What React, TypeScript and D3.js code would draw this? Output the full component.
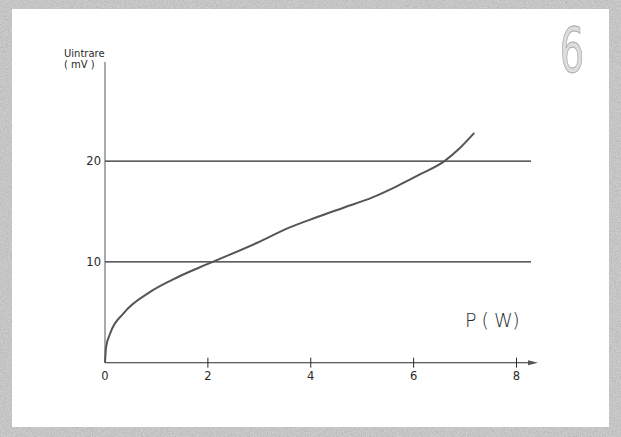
import React from "react";
import * as d3 from "d3";

const xTicks = [0, 2, 4, 6, 8];
const yTicks = [10, 20];
const curveP = [0, 0.02, 0.1, 0.36, 0.87, 1.42, 2.0, 2.96, 3.58, 4.1, 4.65, 5.2, 5.67, 6.13, 6.6, 6.9, 7.18];
const curveU = [0, 1.5, 2.9, 4.9, 7.0, 8.5, 9.8, 11.9, 13.4, 14.4, 15.4, 16.4, 17.5, 18.7, 20, 21.3, 22.8];

const W = 621;
const H = 437;

export default function App() {
  const x = d3.scaleLinear().domain([0, 8]).range([105, 516.5]);
  const y = d3.scaleLinear().domain([0, 10]).range([362.7, 261.9]);
  const pts: [number, number][] = curveP.map((p, i) => [x(p), y(curveU[i])]);
  const line = d3.line().curve(d3.curveMonotoneX);
  const font = "'DejaVu Sans', Verdana, sans-serif";
  const ink = "#2a2a2a";
  return (
    <svg width={W} height={H} style={{ position: "absolute", left: 0, top: 0 }}>
      <defs>
        <filter id="noise" x="0" y="0" width="100%" height="100%">
          <feTurbulence type="fractalNoise" baseFrequency="1.2" numOctaves="1" seed="3" />
          <feColorMatrix type="matrix" values="0 0 0 0 0.45  0 0 0 0 0.45  0 0 0 0 0.45  0 0 0 1.6 -0.3" />
        </filter>
      </defs>
      <rect x={0} y={0} width={W} height={H} fill="#d4d4d4" />
      <rect x={0} y={0} width={W} height={H} filter="url(#noise)" opacity={0.9} />
      <rect x={12} y={9} width={597} height={418} fill="#ffffff" />
      {/* big 6 */}
      <text x={0} y={0} transform="translate(572,72) scale(0.62,1)" fontFamily={font} fontSize={62} textAnchor="middle" fill="#dcdcdc" stroke="#a8a8a8" strokeWidth={1}>6</text>
      {/* gridlines */}
      {yTicks.map((t) => (
        <g key={t}>
          <line x1={105} x2={531} y1={y(t)} y2={y(t)} stroke={ink} strokeWidth={1.1} />
          <text x={101} y={y(t) + 4} fontFamily={font} fontSize={11.5} textAnchor="end" fill={ink}>{t}</text>
        </g>
      ))}
      {/* y axis */}
      <line x1={105} x2={105} y1={y(0)} y2={62} stroke="#444" strokeWidth={0.9} />
      {/* x axis */}
      <line x1={105} x2={530} y1={y(0)} y2={y(0)} stroke={ink} strokeWidth={1.1} />
      <path d={`M528,${y(0) - 2.5} L538,${y(0)} L528,${y(0) + 2.5} Z`} fill="#555" />
      {xTicks.map((t) => (
        <g key={t}>
          {t > 0 && <line x1={x(t)} x2={x(t)} y1={y(0) - 5} y2={y(0) + 5} stroke={ink} strokeWidth={1} />}
          <text x={x(t)} y={y(0) + 17} fontFamily={font} fontSize={11.5} textAnchor="middle" fill={ink}>{t}</text>
        </g>
      ))}
      {/* curve */}
      <path d={line(pts) || ""} fill="none" stroke="#555" strokeWidth={2} />
      {/* labels */}
      <text x={64} y={57} fontFamily={font} fontSize={10} fill={ink}>Uintrare</text>
      <text x={64} y={68} fontFamily={font} fontSize={10} fill={ink}>( mV )</text>
      <text x={465} y={327} fontFamily={font} fontSize={19} fontWeight={300} fill={ink} letterSpacing={-0.5}>P ( W)</text>
    </svg>
  );
}
